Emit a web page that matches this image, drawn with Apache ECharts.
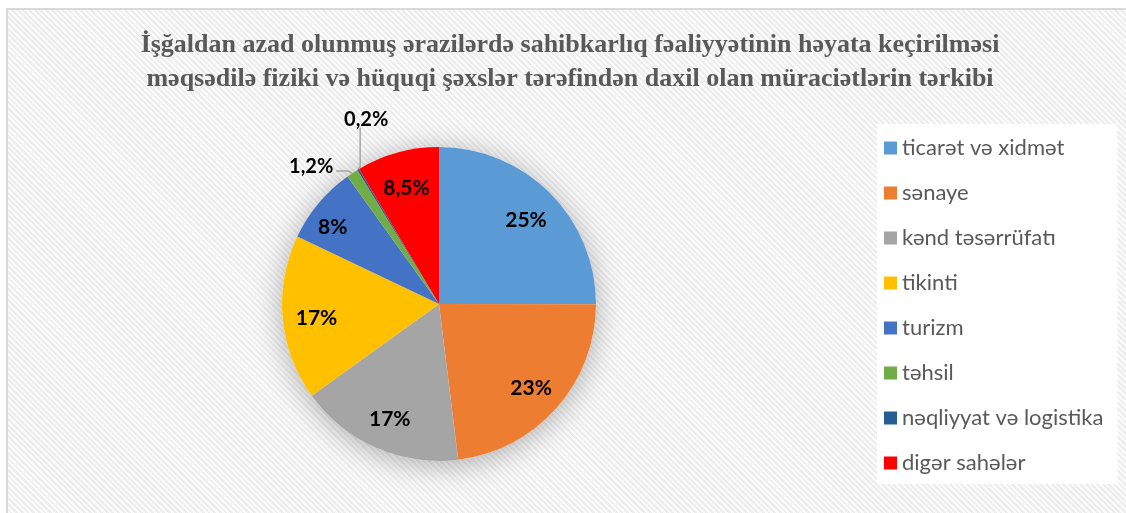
<!DOCTYPE html>
<html>
<head>
<meta charset="utf-8">
<script src="https://cdn.jsdelivr.net/npm/echarts@6/dist/echarts.min.js"></script>
<style>
  html, body { margin: 0; padding: 0; background: #ffffff; }
  #frame {
    position: absolute; left: 6px; top: 8px; width: 1130px; height: 515px;
    border-left: 2px solid #d9d9d9; border-top: 2px solid #d9d9d9;
    background: repeating-linear-gradient(45deg, #fbfbfb 0px, #fbfbfb 2px, #ededed 2px, #ededed 4px);
  }
  #chart { position: absolute; left: 0; top: 0; width: 1126px; height: 513px; }
</style>
</head>
<body>
<div id="frame"></div>
<div id="chart"></div>
<script>
// Application categories and their shares (%)
const categories = [
  'ticarət və xidmət',
  'sənaye',
  'kənd təsərrüfatı',
  'tikinti',
  'turizm',
  'təhsil',
  'nəqliyyat və logistika',
  'digər sahələr'
];
const shares = [25, 23, 17, 17, 8, 1.2, 0.2, 8.5];
const colors = ['#5B9BD5', '#ED7D31', '#A5A5A5', '#FFC000', '#4472C4', '#70AD47', '#255E91', '#FF0000'];
const titleLines = [
  'İşğaldan azad olunmuş ərazilərdə sahibkarlıq fəaliyyətinin həyata keçirilməsi',
  'məqsədilə fiziki və hüquqi şəxslər tərəfindən daxil olan müraciətlərin tərkibi'
];

// Small slices get their labels outside with leader lines
const outsideIdx = [5, 6];

const fmt = v => String(v).replace('.', ',') + '%';
const center = [439, 304];
const R = 157;

const pieData = categories.map((name, i) => ({
  name: name,
  value: shares[i],
  itemStyle: { color: colors[i] },
  label: outsideIdx.includes(i) ? { show: true } : { show: false },
  labelLine: { show: outsideIdx.includes(i) }
}));

const labelRingData = categories.map((name, i) => ({
  name: name,
  value: shares[i],
  label: { show: !outsideIdx.includes(i) }
}));

const titleStyle = {
  fontFamily: '"Liberation Serif", "Times New Roman", serif',
  fontWeight: 'bold',
  fontSize: 26,
  color: '#595959'
};

const chart = echarts.init(document.getElementById('chart'), null, { renderer: 'canvas' });
chart.setOption({
  animation: false,
  backgroundColor: 'transparent',
  color: colors,
  title: [
    { text: titleLines[0], left: 570, top: 32, textAlign: 'center', padding: 0, textStyle: titleStyle },
    { text: titleLines[1], left: 570, top: 66, textAlign: 'center', padding: 0, textStyle: titleStyle }
  ],
  legend: {
    orient: 'vertical',
    left: 877,
    top: 124,
    padding: [13, 14, 10, 7],
    backgroundColor: '#ffffff',
    itemWidth: 13,
    itemHeight: 13,
    itemGap: 23,
    icon: 'rect',
    data: categories,
    textStyle: {
      fontFamily: 'Lato',
      fontSize: 22,
      lineHeight: 22,
      color: '#595959'
    }
  },
  series: [
    {
      // soft drop shadow under the pie
      type: 'pie',
      silent: true,
      center: center,
      radius: [0, R],
      z: 1,
      label: { show: false },
      labelLine: { show: false },
      data: [{ name: '_shadow', value: 1, itemStyle: { color: '#ffffff', shadowBlur: 30, shadowColor: 'rgba(0,0,0,0.3)', shadowOffsetY: 4 } }]
    },
    {
      type: 'pie',
      center: center,
      radius: [0, R],
      startAngle: 90,
      clockwise: true,
      z: 2,
      itemStyle: { borderWidth: 0 },
      label: {
        position: 'outside',
        formatter: p => fmt(p.value),
        fontFamily: 'Lato',
        fontWeight: 'bold',
        fontSize: 20,
        color: '#000000'
      },
      labelLine: {
        length: 6,
        length2: 10,
        lineStyle: { color: '#a6a6a6', width: 1.5 }
      },
      labelLayout: function (params) {
        const pts = params.labelLinePoints;
        if (!pts) return {};
        const p0 = pts[0];
        if (params.dataIndex === 5) {
          const bend = [p0[0] - 4, p0[1] - 2];
          const end = [p0[0] - 16, p0[1] - 2];
          return {
            x: end[0] - 3, y: end[1] - 5, align: 'right', verticalAlign: 'middle',
            labelLinePoints: [p0, bend, end]
          };
        }
        if (params.dataIndex === 6) {
          const end = [p0[0] + 2, p0[1] - 42];
          return {
            x: end[0] + 6, y: end[1] - 8, align: 'center', verticalAlign: 'middle',
            labelLinePoints: [p0, [p0[0] + 2, p0[1] - 3], end]
          };
        }
        return {};
      },
      data: pieData
    },
    {
      // transparent ring used to place the inside labels further out
      type: 'pie',
      silent: true,
      legendHoverLink: false,
      center: center,
      radius: [83, R],
      startAngle: 90,
      clockwise: true,
      z: 3,
      itemStyle: { color: 'rgba(0,0,0,0)' },
      label: {
        position: 'inside',
        formatter: p => fmt(p.value),
        fontFamily: 'Lato',
        fontWeight: 'bold',
        fontSize: 21,
        color: '#000000'
      },
      labelLine: { show: false },
      labelLayout: function (params) {
        // nudge the narrow "turizm" label toward the rim
        if (params.dataIndex === 4) return { dx: -12, dy: 2 };
        return { dy: 3 };
      },
      data: labelRingData
    }
  ]
});
</script>
</body>
</html>
